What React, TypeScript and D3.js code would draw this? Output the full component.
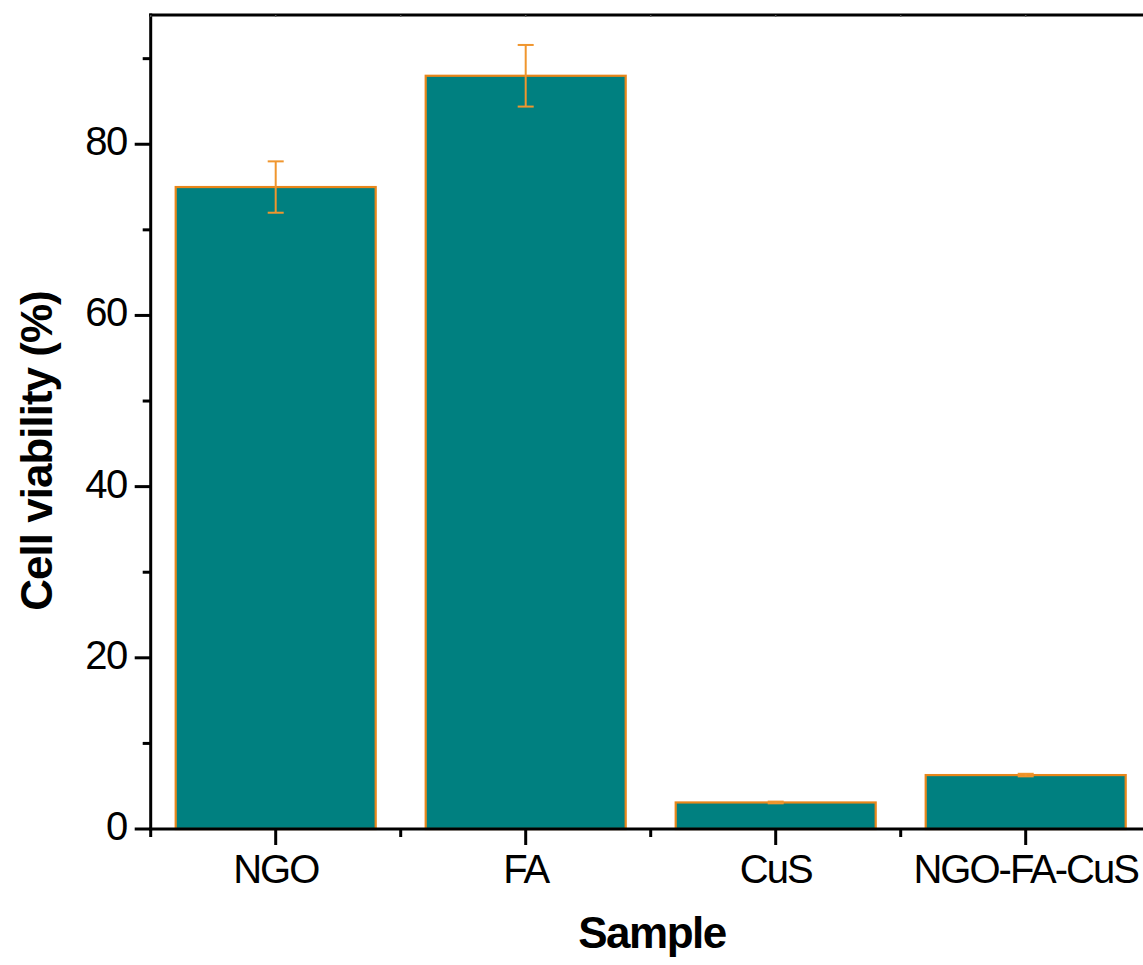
import React from "react";
import * as d3 from "d3";

const categories = ["NGO", "FA", "CuS", "NGO-FA-CuS"];
const viability = [75.0, 88.0, 3.1, 6.3];
const errors = [3.0, 3.6, 0.1, 0.15];
const yMajorTicks = [0, 20, 40, 60, 80];
const yMinorTicks = [10, 30, 50, 70, 90];

const W = 1143;
const H = 965;
const left = 150.7;
const right = 1150.7;
const top = 15;
const bottom = 829;

export default function App() {
  const x = d3.scaleBand<string>().domain(categories).range([left, right]).paddingInner(0.2).paddingOuter(0.1);
  const y = d3.scaleLinear().domain([0, 95.1]).range([bottom, top]);
  const step = x.step();
  const boundaries = d3.range(categories.length + 1).map((i) => left + i * step);
  const centers = categories.map((c) => (x(c) as number) + x.bandwidth() / 2);
  const font = "'Liberation Sans', Arial, sans-serif";
  const teal = "#008080";
  const barStroke = "#E8861A";
  const errColor = "#F0962E";
  return (
    <svg width={W} height={H} style={{ position: "absolute", left: 0, top: 0, background: "#fff" }}>
      {categories.map((c, i) => (
        <rect
          key={c}
          x={x(c)}
          y={y(viability[i])}
          width={x.bandwidth()}
          height={bottom - y(viability[i])}
          fill={teal}
          stroke={barStroke}
          strokeWidth={2.2}
        />
      ))}
      {categories.map((c, i) => {
        const cx = centers[i];
        const y1 = y(viability[i] + errors[i]);
        const y2 = y(viability[i] - errors[i]);
        return (
          <g key={"e" + c} stroke={errColor} strokeWidth={2}>
            <line x1={cx} x2={cx} y1={y1} y2={y2} />
            <line x1={cx - 8} x2={cx + 8} y1={y1} y2={y1} />
            <line x1={cx - 8} x2={cx + 8} y1={y2} y2={y2} />
          </g>
        );
      })}
      <g stroke="#000" strokeWidth={3} fill="none">
        <line x1={left} x2={left} y1={top - 1.5} y2={bottom + 1.5} />
        <line x1={left - 1.5} x2={right} y1={bottom} y2={bottom} />
        <line x1={left - 1.5} x2={right} y1={top} y2={top} />
        <line x1={right} x2={right} y1={top} y2={bottom} />
      </g>
      <g stroke="#000" strokeWidth={3}>
        {yMajorTicks.map((t) => (
          <line key={"ym" + t} x1={left - 16} x2={left} y1={y(t)} y2={y(t)} />
        ))}
        {yMinorTicks.map((t) => (
          <line key={"yn" + t} x1={left - 8} x2={left} y1={y(t)} y2={y(t)} />
        ))}
        {centers.map((cx, i) => (
          <line key={"xm" + i} x1={cx} x2={cx} y1={bottom} y2={bottom + 16} />
        ))}
        {boundaries.map((bx, i) => (
          <line key={"xn" + i} x1={bx} x2={bx} y1={bottom} y2={bottom + 8} />
        ))}
      </g>
      <g stroke="#555" strokeWidth={1.5}>
        {centers.map((cx, i) => (
          <line key={"tm" + i} x1={cx} x2={cx} y1={top} y2={top + 2} />
        ))}
        {boundaries.map((bx, i) => (
          <line key={"tn" + i} x1={bx} x2={bx} y1={top} y2={top + 2} />
        ))}
      </g>
      {yMajorTicks.map((t) => (
        <text
          key={"yl" + t}
          x={left - 24}
          y={y(t) + 11}
          textAnchor="end"
          fontFamily={font}
          fontSize={40}
          letterSpacing={-1.5}
          fill="#000"
        >
          {t}
        </text>
      ))}
      {categories.map((c, i) => (
        <text
          key={"xl" + c}
          x={centers[i]}
          y={883}
          textAnchor="middle"
          fontFamily={font}
          fontSize={40}
          letterSpacing={-2}
          fill="#000"
        >
          {c}
        </text>
      ))}
      <text
        x={652}
        y={948}
        textAnchor="middle"
        fontFamily={font}
        fontSize={44}
        fontWeight="bold"
        letterSpacing={-1.5}
        fill="#000"
      >
        Sample
      </text>
      <text
        transform={`translate(52, 451) rotate(-90)`}
        textAnchor="middle"
        fontFamily={font}
        fontSize={44}
        fontWeight="bold"
        letterSpacing={-1}
        fill="#000"
      >
        Cell viability (%)
      </text>
    </svg>
  );
}
